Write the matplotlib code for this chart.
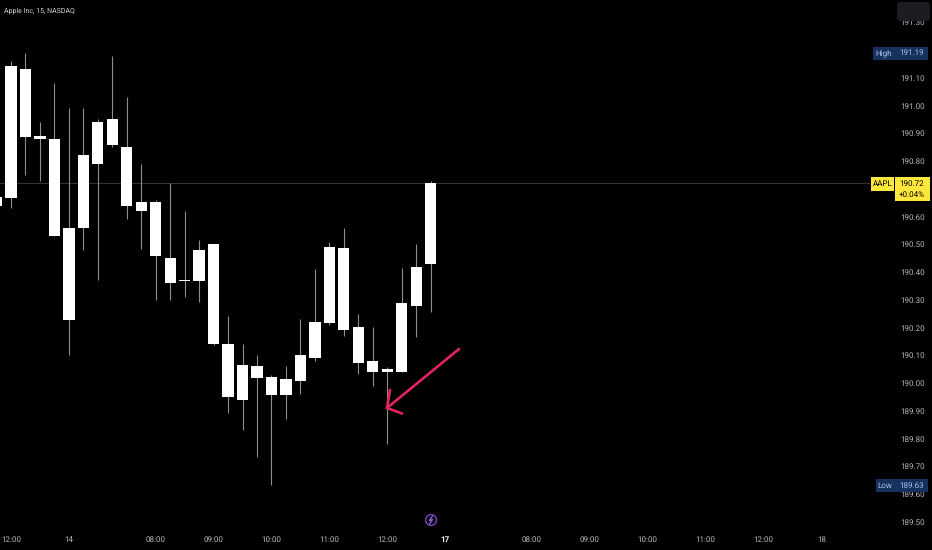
"""AAPL 15 minute candles on a black TradingView style chart."""
import matplotlib
matplotlib.use("Agg")
import matplotlib.pyplot as plt
from matplotlib.patches import Circle, FancyBboxPatch, Rectangle

plt.rcParams["font.family"] = ["Roboto", "DejaVu Sans"]
plt.rcParams["text.hinting"] = "none"
plt.rcParams["text.hinting_factor"] = 1

BODY_TOP = [190.670, 191.141, 191.130, 190.890, 190.879, 190.559, 190.822, 190.941,
            190.951, 190.850, 190.652, 190.652, 190.450, 190.370, 190.479, 190.501,
            190.141, 190.065, 190.061, 190.022, 190.014, 190.101, 190.220, 190.490,
            190.486, 190.202, 190.079, 190.050, 190.288, 190.418, 190.721]
BODY_BOTTOM = [190.638, 190.668, 190.888, 190.879, 190.530, 190.227, 190.559, 190.789,
               190.858, 190.638, 190.620, 190.458, 190.360, 190.368, 190.368, 190.141,
               189.950, 189.939, 190.018, 189.957, 189.957, 190.007, 190.090, 190.216,
               190.191, 190.072, 190.040, 190.040, 190.040, 190.277, 190.429]
WICK_HIGH = [190.670, 191.160, 191.190, 190.941, 191.081, 190.991, 190.991, 190.951,
             191.178, 191.031, 190.789, 190.659, 190.721, 190.620, 190.515, 190.501,
             190.241, 190.141, 190.101, 190.029, 190.061, 190.231, 190.411, 190.508,
             190.559, 190.249, 190.202, 190.058, 190.414, 190.501, 190.728]
WICK_LOW = [190.638, 190.631, 190.750, 190.728, 190.530, 190.101, 190.479, 190.371,
            190.850, 190.591, 190.483, 190.299, 190.299, 190.310, 190.290, 190.137,
            189.892, 189.831, 189.733, 189.631, 189.870, 189.960, 190.079, 190.209,
            190.169, 190.032, 189.989, 189.780, 190.040, 190.166, 190.256]

PRICE_TICKS = [189.5, 189.6, 189.7, 189.8, 189.9, 190.0, 190.1, 190.2, 190.3,
               190.4, 190.5, 190.6, 190.8, 190.9, 191.0, 191.1, 191.3]
TIME_TICKS = [1, 5, 11, 15, 19, 23, 27, 31, 37, 41, 45, 49, 53, 57]
TIME_LABELS = ["12:00", "14", "08:00", "09:00", "10:00", "11:00", "12:00", "17",
               "08:00", "09:00", "10:00", "11:00", "12:00", "18"]
LAST_PRICE = 190.72

TEXT = "#b4b6bb"
NAVY = "#17315f"
NAVY_TEXT = "#a9bfe6"
YELLOW = "#ffe83c"
PINK = "#e5245f"
FS = 5.9

W, H = 932, 550
fig = plt.figure(figsize=(W / 100, H / 100), dpi=100, facecolor="black")
ax = fig.add_axes([0, 23 / H, 870 / W, 527 / H], facecolor="black")

x = list(range(len(BODY_TOP)))
heights = [t - b for t, b in zip(BODY_TOP, BODY_BOTTOM)]
ax.axhline(LAST_PRICE, color="#35352f", lw=0.8, zorder=1)
ax.vlines(x, WICK_LOW, WICK_HIGH, color="#8f8f8f", lw=0.8, zorder=2)
ax.bar(x, heights, 0.78, bottom=BODY_BOTTOM, color="white", zorder=3)

ax.set_xlim(0.24, 60.36)
ax.set_ylim(189.481, 191.380)
for s in ax.spines.values():
    s.set_visible(False)
ax.yaxis.tick_right()
ax.set_yticks(PRICE_TICKS, [f"{p:.2f}" for p in PRICE_TICKS])
ax.set_xticks(TIME_TICKS, TIME_LABELS)
ax.tick_params(axis="y", length=0, pad=21.6, labelsize=FS, labelcolor=TEXT)
ax.tick_params(axis="x", length=0, pad=6.5, labelsize=FS, labelcolor=TEXT)
for lab in ax.get_xticklabels():
    if lab.get_text() == "17":
        lab.set_fontweight("bold")
        lab.set_color("white")

# overlay in pixels for the tags, arrow and other chart furniture
ov = fig.add_axes([0, 0, 1, 1], facecolor="none")
ov.set_xlim(0, W)
ov.set_ylim(H, 0)
ov.axis("off")

ov.text(4, 11, "Apple Inc, 15, NASDAQ", color="#d0d2d6", fontsize=4.9, va="center")
ov.add_patch(FancyBboxPatch((899, 4), 29, 15, boxstyle="round,pad=2,rounding_size=3",
                            fc="#1b1d21", ec="none"))

ov.add_patch(Rectangle((873, 47), 55, 13, fc=NAVY, ec="none"))
ov.text(884, 53.2, "High", color=NAVY_TEXT, fontsize=FS, ha="center", va="center")
ov.text(912, 53.2, "191.19", color=NAVY_TEXT, fontsize=FS, ha="center", va="center")

ov.add_patch(Rectangle((876, 479), 52, 13, fc=NAVY, ec="none"))
ov.text(885, 485.7, "Low", color=NAVY_TEXT, fontsize=FS, ha="center", va="center")
ov.text(912, 485.7, "189.63", color=NAVY_TEXT, fontsize=FS, ha="center", va="center")

ov.add_patch(Rectangle((871, 177), 23, 14, fc=YELLOW, ec="none"))
ov.add_patch(Rectangle((895, 177), 35, 24, fc=YELLOW, ec="none"))
ov.text(882.5, 184, "AAPL", color="black", fontsize=FS, ha="center", va="center")
ov.text(912, 184, "190.72", color="black", fontsize=FS, ha="center", va="center")
ov.text(912, 195, "+0.04%", color="black", fontsize=FS, ha="center", va="center")

ov.plot([459, 387], [349, 408], color=PINK, lw=1.9, solid_capstyle="round")
ov.plot([390, 387, 402], [390, 408, 413.5], color=PINK, lw=1.9,
        solid_capstyle="round", solid_joinstyle="miter")

ov.add_patch(Circle((431, 520), 5.5, fc="#12081f", ec="#7a4bc4", lw=0.9))
ov.plot([432.5, 429.5, 432.5, 429.5], [516, 520.5, 519.5, 524], color="#9a6be0", lw=0.8)

fig.savefig("out.png", dpi=100, facecolor="black")
